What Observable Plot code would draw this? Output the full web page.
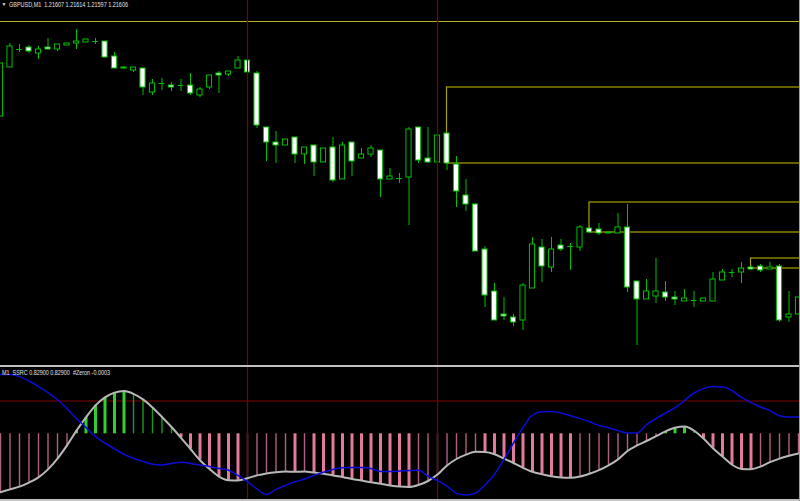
<!DOCTYPE html>
<html><head><meta charset="utf-8">
<script src="https://cdn.jsdelivr.net/npm/d3@7"></script>
<script src="https://cdn.jsdelivr.net/npm/@observablehq/plot@0.6"></script>
<style>
html,body{margin:0;padding:0;background:#000;}
#wrap{position:relative;width:800px;height:501px;overflow:hidden;background:#000;}
.lbl{position:absolute;color:#e0e0e0;font-family:"Liberation Sans",Arial,sans-serif;font-size:6.6px;white-space:pre;transform-origin:0 0;line-height:1;}
</style></head><body>
<div id="wrap">
  <div id="main" style="position:absolute;left:0;top:0"></div>
  <div style="position:absolute;left:0;top:365px;width:800px;height:2px;background:#c0c0c0"></div>
  <div id="ind" style="position:absolute;left:0;top:367px"></div>
  <div style="position:absolute;left:0;top:499px;width:800px;height:2px;background:#c0c0c0"></div>
  <div style="position:absolute;left:799px;top:0;width:1px;height:501px;background:#a0a0a0"></div>
  <div class="lbl" id="tri" style="left:1.5px;top:2px;font-size:5px">▼</div>
  <div class="lbl" id="t1" style="left:9px;top:1.7px"></div>
  <div class="lbl" id="t2" style="left:2px;top:370.1px"></div>
</div>
<script>
// ---- data ----
const symbolTitle = "GBPUSD,M1  1.21607 1.21614 1.21597 1.21606";
const indicatorTitle = "M1  SSRC 0.82900 0.82900  #Zeron -0.0003";

const open = [1.21795,1.21844,1.21862,1.21864,1.21858,1.21864,1.21862,1.21866,1.21868,1.21869,
1.21870,1.21870,1.21855,1.21844,1.21841,1.21843,1.21819,1.21828,1.21826,1.21826,
1.21826,1.21816,1.21824,1.21838,1.21837,1.21843,1.21851,1.21838,1.21784,1.21769,
1.21766,1.21774,1.21757,1.21766,1.21749,1.21764,1.21732,1.21769,1.21753,1.21757,
1.21761,1.21732,1.21733,1.21734,1.21784,1.21753,1.21749,1.21778,1.21747,1.21716,
1.21707,1.21662,1.21620,1.21597,1.21594,1.21591,1.21623,1.21664,1.21644,1.21666,
1.21665,1.21664,1.21683,1.21682,1.21679,1.21678,1.21684,1.21630,1.21612,1.21615,
1.21619,1.21614,1.21610,1.21611,1.21610,1.21610,1.21631,1.21639,1.21639,1.21644,
1.21645,1.21642,1.21645,1.21594,1.21597];
const high = [1.21848,1.21868,1.21867,1.21866,1.21865,1.21873,1.21867,1.21868,1.21882,1.21872,
1.21873,1.21870,1.21859,1.21845,1.21844,1.21843,1.21832,1.21833,1.21829,1.21832,
1.21838,1.21824,1.21836,1.21840,1.21840,1.21855,1.21851,1.21840,1.21784,1.21780,
1.21772,1.21774,1.21764,1.21766,1.21763,1.21774,1.21769,1.21769,1.21763,1.21766,
1.21761,1.21743,1.21738,1.21784,1.21784,1.21784,1.21776,1.21778,1.21755,1.21732,
1.21708,1.21665,1.21628,1.21614,1.21597,1.21628,1.21674,1.21672,1.21674,1.21672,
1.21668,1.21686,1.21685,1.21688,1.21679,1.21698,1.21707,1.21630,1.21632,1.21653,
1.21630,1.21620,1.21622,1.21620,1.21613,1.21639,1.21642,1.21642,1.21649,1.21646,
1.21647,1.21649,1.21647,1.21620,1.21614];
const low = [1.21795,1.21844,1.21859,1.21858,1.21852,1.21862,1.21860,1.21866,1.21862,1.21869,
1.21867,1.21854,1.21843,1.21842,1.21839,1.21816,1.21816,1.21821,1.21820,1.21820,
1.21816,1.21814,1.21822,1.21818,1.21835,1.21843,1.21839,1.21783,1.21750,1.21748,
1.21766,1.21748,1.21747,1.21735,1.21749,1.21729,1.21732,1.21735,1.21753,1.21754,
1.21714,1.21732,1.21728,1.21686,1.21748,1.21748,1.21749,1.21741,1.21704,1.21700,
1.21660,1.21604,1.21591,1.21591,1.21585,1.21581,1.21623,1.21629,1.21639,1.21660,
1.21641,1.21660,1.21678,1.21676,1.21678,1.21678,1.21619,1.21566,1.21612,1.21608,
1.21610,1.21606,1.21610,1.21604,1.21610,1.21610,1.21631,1.21634,1.21628,1.21641,
1.21639,1.21642,1.21589,1.21589,1.21597];
const close = [1.21848,1.21865,1.21862,1.21860,1.21862,1.21862,1.21867,1.21868,1.21870,1.21872,
1.21870,1.21854,1.21843,1.21843,1.21844,1.21824,1.21828,1.21828,1.21824,1.21826,
1.21818,1.21822,1.21836,1.21836,1.21840,1.21851,1.21839,1.21786,1.21769,1.21766,
1.21772,1.21757,1.21764,1.21749,1.21763,1.21731,1.21766,1.21750,1.21757,1.21763,
1.21732,1.21735,1.21733,1.21782,1.21751,1.21749,1.21776,1.21748,1.21720,1.21707,
1.21660,1.21616,1.21591,1.21595,1.21589,1.21626,1.21667,1.21645,1.21662,1.21662,
1.21665,1.21684,1.21679,1.21678,1.21678,1.21684,1.21624,1.21612,1.21620,1.21620,
1.21614,1.21612,1.21613,1.21611,1.21613,1.21632,1.21639,1.21639,1.21643,1.21642,
1.21641,1.21644,1.21591,1.21597,1.21614];

const topLevel = [1.21890];
const markerBars = [26, 46];
const zoneStart = [47, 62, 79];
const zoneTop = [1.21824, 1.21709, 1.21653];
const zoneBottom = [1.21748, 1.21679, 1.21643];

const ssrc = [-1.46,-1.39,-1.32,-1.22,-1.09,-0.89,-0.62,-0.29,0.08,0.41,
0.71,0.91,1.03,1.07,1.00,0.86,0.66,0.42,0.17,-0.10,
-0.38,-0.66,-0.88,-1.07,-1.16,-1.165,-1.11,-1.04,-0.99,-0.96,
-0.945,-0.95,-0.945,-0.97,-1.00,-1.04,-1.08,-1.13,-1.17,-1.21,
-1.25,-1.29,-1.32,-1.33,-1.28,-1.18,-1.02,-0.79,-0.63,-0.52,
-0.45,-0.455,-0.51,-0.62,-0.73,-0.85,-0.95,-1.01,-1.06,-1.09,
-1.10,-1.07,-1.00,-0.91,-0.79,-0.64,-0.43,-0.29,-0.18,-0.06,
0.06,0.15,0.18,0.08,-0.12,-0.36,-0.57,-0.77,-0.88,-0.885,
-0.82,-0.71,-0.62,-0.55,-0.49];
const signal = [1.48,1.48,1.43,1.32,1.18,1.03,0.85,0.63,0.38,0.16,
-0.07,-0.23,-0.38,-0.51,-0.61,-0.69,-0.76,-0.78,-0.74,-0.71,
-0.74,-0.78,-0.82,-0.87,-0.91,-1.04,-1.20,-1.38,-1.52,-1.39,
-1.29,-1.20,-1.13,-1.04,-0.96,-0.89,-0.85,-0.84,-0.84,-0.87,
-0.94,-0.94,-0.93,-0.92,-0.91,-1.06,-1.17,-1.31,-1.49,-1.53,
-1.48,-1.28,-1.01,-0.64,-0.23,0.16,0.47,0.55,0.56,0.52,
0.45,0.38,0.30,0.21,0.15,0.08,0.02,0.02,0.23,0.38,
0.52,0.65,0.83,1.02,1.13,1.18,1.17,1.08,0.91,0.78,
0.67,0.58,0.45,0.42,0.42];
const ssrcLevel = [0.82];

// ---- build ----
const GREEN = "#00c000";
const xDomain = [0, 800 / 9.5];
const candles = open.map((o, i) => ({i, o, h: high[i], l: low[i], c: close[i]}));
const bodies = candles.filter(d => d.o !== d.c);
const dojis = candles.filter(d => d.o === d.c);
const zones = zoneStart.map((s, k) => ({s, top: zoneTop[k], bottom: zoneBottom[k]}));

const main = Plot.plot({
  width: 800, height: 365, margin: 0,
  style: {background: "#000"},
  x: {domain: xDomain, axis: null},
  y: {domain: [1.21546, 1.21911], axis: null},
  marks: [
    Plot.ruleY(topLevel, {stroke: "#b4b030", strokeWidth: 1.2}),
    Plot.rect(zones, {x1: "s", x2: () => 90, y1: "top", y2: "bottom", fill: "none", stroke: "#a8a000", strokeWidth: 1.2}),
    Plot.ruleX(candles, {x: "i", y1: "l", y2: "h", stroke: GREEN}),
    Plot.rect(bodies, {x1: d => d.i - 0.27, x2: d => d.i + 0.27, y1: "o", y2: "c",
      fill: d => d.c < d.o ? "#ffffff" : "#000000", stroke: GREEN}),
    Plot.ruleY(dojis, {y: "o", x1: d => d.i - 0.3, x2: d => d.i + 0.3, stroke: GREEN}),
    Plot.ruleX(markerBars, {stroke: "#800000", strokeWidth: 1.2})
  ]
});
document.getElementById("main").appendChild(main);

const ind = ssrc.map((g, i) => ({i, g, b: signal[i], up: i === 0 ? true : g >= ssrc[i - 1]}));
const barColor = d => d.g >= 0 ? (d.up ? "#30d030" : "#1e9a1e") : (d.up ? "#b06080" : "#e27a9a");
const barWidth = d => (d.g >= 0 ? d.up : !d.up) ? 3 : 1.4;

const indicator = Plot.plot({
  width: 800, height: 132, margin: 0,
  style: {background: "#000"},
  x: {domain: xDomain, axis: null},
  y: {domain: [-1.6425, 1.6575], axis: null},
  marks: [
    Plot.ruleY(ssrcLevel, {stroke: "#800000", strokeWidth: 1.2}),
    Plot.ruleX(ind, {x: "i", y1: 0, y2: "g", stroke: barColor, strokeWidth: barWidth}),
    Plot.ruleX(markerBars, {stroke: "#800000", strokeWidth: 1.2}),
    Plot.line(ind, {x: "i", y: "g", stroke: "#b8b8b8", strokeWidth: 2, curve: "monotone-x"}),
    Plot.line(ind, {x: "i", y: "b", stroke: "#0c0cd8", strokeWidth: 1.5, curve: "monotone-x"})
  ]
});
document.getElementById("ind").appendChild(indicator);

function fit(id, text, w) {
  const el = document.getElementById(id);
  el.textContent = text;
  const r = el.getBoundingClientRect().width;
  if (r > 0) el.style.transform = `scaleX(${w / r})`;
}
fit("t1", symbolTitle, 119);
fit("t2", indicatorTitle, 108);
</script>
</body></html>
